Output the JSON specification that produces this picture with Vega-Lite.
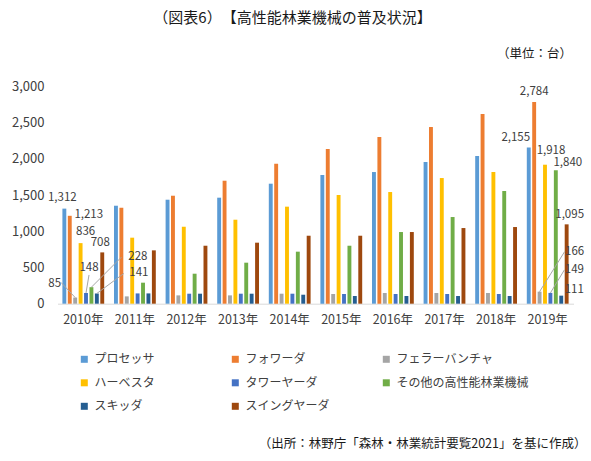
{
  "$schema": "https://vega.github.io/schema/vega-lite/v6.json",
  "autosize": {"type": "none"},
  "width": 516,
  "height": 217.4,
  "padding": {"left": 57.5, "top": 86.3, "right": 17.5, "bottom": 157.3},
  "background": "white",
  "config": {
    "font": "Noto Sans CJK JP",
    "view": {"stroke": null},
    "text": {"font": "Noto Sans CJK JP"}
  },
  "title": {
    "text": "（図表6）　【高性能林業機械の普及状況】",
    "frame": "group",
    "anchor": "middle",
    "dx": -23,
    "offset": 15,
    "baseline": "middle",
    "fontSize": 15,
    "fontWeight": "normal",
    "color": "#1a1a1a"
  },
  "data": {
    "values": [
      {"year": "2010年", "series": "プロセッサ", "value": 1312},
      {"year": "2010年", "series": "フォワーダ", "value": 1213},
      {"year": "2010年", "series": "フェラーバンチャ", "value": 85},
      {"year": "2010年", "series": "ハーベスタ", "value": 836},
      {"year": "2010年", "series": "タワーヤーダ", "value": 148},
      {"year": "2010年", "series": "その他の高性能林業機械", "value": 228},
      {"year": "2010年", "series": "スキッダ", "value": 141},
      {"year": "2010年", "series": "スイングヤーダ", "value": 708},
      {"year": "2011年", "series": "プロセッサ", "value": 1352},
      {"year": "2011年", "series": "フォワーダ", "value": 1325},
      {"year": "2011年", "series": "フェラーバンチャ", "value": 101},
      {"year": "2011年", "series": "ハーベスタ", "value": 911},
      {"year": "2011年", "series": "タワーヤーダ", "value": 142},
      {"year": "2011年", "series": "その他の高性能林業機械", "value": 290},
      {"year": "2011年", "series": "スキッダ", "value": 142},
      {"year": "2011年", "series": "スイングヤーダ", "value": 736},
      {"year": "2012年", "series": "プロセッサ", "value": 1435},
      {"year": "2012年", "series": "フォワーダ", "value": 1490},
      {"year": "2012年", "series": "フェラーバンチャ", "value": 115},
      {"year": "2012年", "series": "ハーベスタ", "value": 1063},
      {"year": "2012年", "series": "タワーヤーダ", "value": 138},
      {"year": "2012年", "series": "その他の高性能林業機械", "value": 414},
      {"year": "2012年", "series": "スキッダ", "value": 138},
      {"year": "2012年", "series": "スイングヤーダ", "value": 800},
      {"year": "2013年", "series": "プロセッサ", "value": 1463},
      {"year": "2013年", "series": "フォワーダ", "value": 1697},
      {"year": "2013年", "series": "フェラーバンチャ", "value": 115},
      {"year": "2013年", "series": "ハーベスタ", "value": 1159},
      {"year": "2013年", "series": "タワーヤーダ", "value": 138},
      {"year": "2013年", "series": "その他の高性能林業機械", "value": 566},
      {"year": "2013年", "series": "スキッダ", "value": 138},
      {"year": "2013年", "series": "スイングヤーダ", "value": 842},
      {"year": "2014年", "series": "プロセッサ", "value": 1656},
      {"year": "2014年", "series": "フォワーダ", "value": 1932},
      {"year": "2014年", "series": "フェラーバンチャ", "value": 138},
      {"year": "2014年", "series": "ハーベスタ", "value": 1339},
      {"year": "2014年", "series": "タワーヤーダ", "value": 138},
      {"year": "2014年", "series": "その他の高性能林業機械", "value": 718},
      {"year": "2014年", "series": "スキッダ", "value": 124},
      {"year": "2014年", "series": "スイングヤーダ", "value": 938},
      {"year": "2015年", "series": "プロセッサ", "value": 1776},
      {"year": "2015年", "series": "フォワーダ", "value": 2135},
      {"year": "2015年", "series": "フェラーバンチャ", "value": 134},
      {"year": "2015年", "series": "ハーベスタ", "value": 1500},
      {"year": "2015年", "series": "タワーヤーダ", "value": 134},
      {"year": "2015年", "series": "その他の高性能林業機械", "value": 800},
      {"year": "2015年", "series": "スキッダ", "value": 106},
      {"year": "2015年", "series": "スイングヤーダ", "value": 938},
      {"year": "2016年", "series": "プロセッサ", "value": 1817},
      {"year": "2016年", "series": "フォワーダ", "value": 2300},
      {"year": "2016年", "series": "フェラーバンチャ", "value": 148},
      {"year": "2016年", "series": "ハーベスタ", "value": 1541},
      {"year": "2016年", "series": "タワーヤーダ", "value": 134},
      {"year": "2016年", "series": "その他の高性能林業機械", "value": 989},
      {"year": "2016年", "series": "スキッダ", "value": 106},
      {"year": "2016年", "series": "スイングヤーダ", "value": 989},
      {"year": "2017年", "series": "プロセッサ", "value": 1955},
      {"year": "2017年", "series": "フォワーダ", "value": 2438},
      {"year": "2017年", "series": "フェラーバンチャ", "value": 148},
      {"year": "2017年", "series": "ハーベスタ", "value": 1734},
      {"year": "2017年", "series": "タワーヤーダ", "value": 134},
      {"year": "2017年", "series": "その他の高性能林業機械", "value": 1196},
      {"year": "2017年", "series": "スキッダ", "value": 106},
      {"year": "2017年", "series": "スイングヤーダ", "value": 1044},
      {"year": "2018年", "series": "プロセッサ", "value": 2038},
      {"year": "2018年", "series": "フォワーダ", "value": 2617},
      {"year": "2018年", "series": "フェラーバンチャ", "value": 148},
      {"year": "2018年", "series": "ハーベスタ", "value": 1817},
      {"year": "2018年", "series": "タワーヤーダ", "value": 134},
      {"year": "2018年", "series": "その他の高性能林業機械", "value": 1555},
      {"year": "2018年", "series": "スキッダ", "value": 106},
      {"year": "2018年", "series": "スイングヤーダ", "value": 1058},
      {"year": "2019年", "series": "プロセッサ", "value": 2155},
      {"year": "2019年", "series": "フォワーダ", "value": 2784},
      {"year": "2019年", "series": "フェラーバンチャ", "value": 166},
      {"year": "2019年", "series": "ハーベスタ", "value": 1918},
      {"year": "2019年", "series": "タワーヤーダ", "value": 149},
      {"year": "2019年", "series": "その他の高性能林業機械", "value": 1840},
      {"year": "2019年", "series": "スキッダ", "value": 111},
      {"year": "2019年", "series": "スイングヤーダ", "value": 1095}
    ]
  },
  "encoding": {
    "x": {
      "field": "year",
      "type": "nominal",
      "scale": {"paddingInner": 0.19, "paddingOuter": 0.095},
      "axis": {
        "labelAngle": 0,
        "ticks": false,
        "domainColor": "#D9D9D9",
        "labelPadding": 10,
        "labelFontSize": 12.5,
        "labelColor": "#404040",
        "title": "（出所：林野庁「森林・林業統計要覧2021」を基に作成）",
        "titleX": 528.5,
        "titleY": 139.5,
        "titleAlign": "right",
        "titleBaseline": "middle",
        "titleFontWeight": "normal",
        "titleFontSize": 12.5,
        "titleColor": "#1a1a1a"
      }
    },
    "xOffset": {
      "field": "series",
      "type": "nominal",
      "sort": ["プロセッサ", "フォワーダ", "フェラーバンチャ", "ハーベスタ", "タワーヤーダ", "その他の高性能林業機械", "スキッダ", "スイングヤーダ"],
      "scale": {"paddingInner": 0.28, "paddingOuter": 0}
    },
    "y": {
      "field": "value",
      "type": "quantitative",
      "scale": {"domain": [0, 3000], "nice": false},
      "axis": {
        "values": [0, 500, 1000, 1500, 2000, 2500, 3000],
        "format": ",d",
        "ticks": false,
        "domain": false,
        "grid": false,
        "labelPadding": 13.5,
        "labelFontSize": 13,
        "labelColor": "#404040",
        "title": "（単位：台）",
        "titleAngle": 0,
        "titleX": 514,
        "titleY": -32.5,
        "titleAlign": "right",
        "titleBaseline": "middle",
        "titleFontWeight": "normal",
        "titleFontSize": 12.5,
        "titleColor": "#1a1a1a"
      }
    }
  },
  "layer": [
    {
      "mark": {"type": "bar"},
      "encoding": {
        "color": {
          "field": "series",
          "type": "nominal",
          "scale": {
            "domain": ["プロセッサ", "フォワーダ", "フェラーバンチャ", "ハーベスタ", "タワーヤーダ", "その他の高性能林業機械", "スキッダ", "スイングヤーダ"],
            "range": ["#5B9BD5", "#ED7D31", "#A5A5A5", "#FFC000", "#4472C4", "#70AD47", "#255E91", "#9E480E"]
          },
          "legend": {
            "orient": "none",
            "direction": "horizontal",
            "legendX": 20.8,
            "legendY": 267,
            "columns": 3,
            "gridAlign": "all",
            "columnPadding": 2,
            "rowPadding": 11.5,
            "padding": 0,
            "title": null,
            "symbolType": "square",
            "symbolSize": 49,
            "symbolStrokeWidth": 0,
            "labelFontSize": 12,
            "labelColor": "#404040",
            "labelOffset": 4.3,
            "labelLimit": 300
          }
        }
      }
    },
    {
      "transform": [{"filter": "datum.year == '2010年' && datum.series == 'フェラーバンチャ'"}],
      "mark": {"type": "rule", "color": "#A6A6A6", "strokeWidth": 1, "x2Offset": -1.2, "y2Offset": -15},
      "encoding": {"x2": {"field": "year", "bandPosition": 0}, "y2": {"field": "value"}}
    },
    {
      "transform": [{"filter": "datum.year == '2010年' && datum.series == 'タワーヤーダ'"}],
      "mark": {"type": "rule", "color": "#A6A6A6", "strokeWidth": 1, "x2Offset": 26.6, "y2Offset": -18},
      "encoding": {"x2": {"field": "year", "bandPosition": 0}, "y2": {"field": "value"}}
    },
    {
      "transform": [{"filter": "datum.year == '2010年' && datum.series == 'その他の高性能林業機械'"}],
      "mark": {"type": "rule", "color": "#A6A6A6", "strokeWidth": 1, "x2Offset": 59, "y2Offset": -30},
      "encoding": {"x2": {"field": "year", "bandPosition": 0}, "y2": {"field": "value"}}
    },
    {
      "transform": [{"filter": "datum.year == '2010年' && datum.series == 'スキッダ'"}],
      "mark": {"type": "rule", "color": "#A6A6A6", "strokeWidth": 1, "x2Offset": 61.4, "y2Offset": -20},
      "encoding": {"x2": {"field": "year", "bandPosition": 0}, "y2": {"field": "value"}}
    },
    {
      "transform": [{"filter": "datum.year == '2019年' && datum.series == 'フェラーバンチャ'"}],
      "mark": {"type": "rule", "color": "#A6A6A6", "strokeWidth": 1, "x2Offset": 37.8, "y2Offset": -40},
      "encoding": {"x2": {"field": "year", "bandPosition": 0}, "y2": {"field": "value"}}
    },
    {
      "transform": [{"filter": "datum.year == '2019年' && datum.series == 'タワーヤーダ'"}],
      "mark": {"type": "rule", "color": "#A6A6A6", "strokeWidth": 1, "x2Offset": 37.6, "y2Offset": -23},
      "encoding": {"x2": {"field": "year", "bandPosition": 0}, "y2": {"field": "value"}}
    },
    {
      "transform": [{"filter": "datum.year == '2010年' && datum.series == 'プロセッサ'"}],
      "mark": {"type": "text", "dx": -2, "dy": -11, "fontSize": 11.5, "color": "#404040", "baseline": "middle"},
      "encoding": {"text": {"field": "value", "format": ","}}
    },
    {
      "transform": [{"filter": "datum.year == '2010年' && datum.series == 'フォワーダ'"}],
      "mark": {"type": "text", "dx": 19, "dy": -1, "fontSize": 11.5, "color": "#404040", "baseline": "middle"},
      "encoding": {"text": {"field": "value", "format": ","}}
    },
    {
      "transform": [{"filter": "datum.year == '2010年' && datum.series == 'ハーベスタ'"}],
      "mark": {"type": "text", "dx": 5, "dy": -11, "fontSize": 11.5, "color": "#404040", "baseline": "middle"},
      "encoding": {"text": {"field": "value", "format": ","}}
    },
    {
      "transform": [{"filter": "datum.year == '2010年' && datum.series == 'スイングヤーダ'"}],
      "mark": {"type": "text", "dx": -2, "dy": -9, "fontSize": 11.5, "color": "#404040", "baseline": "middle"},
      "encoding": {"text": {"field": "value", "format": ","}}
    },
    {
      "transform": [{"filter": "datum.year == '2010年' && datum.series == 'フェラーバンチャ'"}],
      "mark": {"type": "text", "dx": -20.5, "dy": -14, "fontSize": 11.5, "color": "#404040", "baseline": "middle"},
      "encoding": {"text": {"field": "value", "format": ","}}
    },
    {
      "transform": [{"filter": "datum.year == '2010年' && datum.series == 'タワーヤーダ'"}],
      "mark": {"type": "text", "dx": 3, "dy": -25, "fontSize": 11.5, "color": "#404040", "baseline": "middle"},
      "encoding": {"text": {"field": "value", "format": ","}}
    },
    {
      "transform": [{"filter": "datum.year == '2010年' && datum.series == 'その他の高性能林業機械'"}],
      "mark": {"type": "text", "dx": 46.5, "dy": -30.5, "fontSize": 11.5, "color": "#404040", "baseline": "middle"},
      "encoding": {"text": {"field": "value", "format": ","}}
    },
    {
      "transform": [{"filter": "datum.year == '2010年' && datum.series == 'スキッダ'"}],
      "mark": {"type": "text", "dx": 42, "dy": -20, "fontSize": 11.5, "color": "#404040", "baseline": "middle"},
      "encoding": {"text": {"field": "value", "format": ","}}
    },
    {
      "transform": [{"filter": "datum.year == '2019年' && datum.series == 'プロセッサ'"}],
      "mark": {"type": "text", "dx": -13, "dy": -10, "fontSize": 11.5, "color": "#404040", "baseline": "middle"},
      "encoding": {"text": {"field": "value", "format": ","}}
    },
    {
      "transform": [{"filter": "datum.year == '2019年' && datum.series == 'フォワーダ'"}],
      "mark": {"type": "text", "dx": 0, "dy": -10, "fontSize": 11.5, "color": "#404040", "baseline": "middle"},
      "encoding": {"text": {"field": "value", "format": ","}}
    },
    {
      "transform": [{"filter": "datum.year == '2019年' && datum.series == 'ハーベスタ'"}],
      "mark": {"type": "text", "dx": 6, "dy": -14, "fontSize": 11.5, "color": "#404040", "baseline": "middle"},
      "encoding": {"text": {"field": "value", "format": ","}}
    },
    {
      "transform": [{"filter": "datum.year == '2019年' && datum.series == 'その他の高性能林業機械'"}],
      "mark": {"type": "text", "dx": 12, "dy": -7, "fontSize": 11.5, "color": "#404040", "baseline": "middle"},
      "encoding": {"text": {"field": "value", "format": ","}}
    },
    {
      "transform": [{"filter": "datum.year == '2019年' && datum.series == 'スイングヤーダ'"}],
      "mark": {"type": "text", "dx": 3, "dy": -9, "fontSize": 11.5, "color": "#404040", "baseline": "middle"},
      "encoding": {"text": {"field": "value", "format": ","}}
    },
    {
      "transform": [{"filter": "datum.year == '2019年' && datum.series == 'フェラーバンチャ'"}],
      "mark": {"type": "text", "dx": 35, "dy": -40, "fontSize": 11.5, "color": "#404040", "baseline": "middle"},
      "encoding": {"text": {"field": "value", "format": ","}}
    },
    {
      "transform": [{"filter": "datum.year == '2019年' && datum.series == 'タワーヤーダ'"}],
      "mark": {"type": "text", "dx": 24, "dy": -23, "fontSize": 11.5, "color": "#404040", "baseline": "middle"},
      "encoding": {"text": {"field": "value", "format": ","}}
    },
    {
      "transform": [{"filter": "datum.year == '2019年' && datum.series == 'スキッダ'"}],
      "mark": {"type": "text", "dx": 13, "dy": -6, "fontSize": 11.5, "color": "#404040", "baseline": "middle"},
      "encoding": {"text": {"field": "value", "format": ","}}
    }
  ]
}
